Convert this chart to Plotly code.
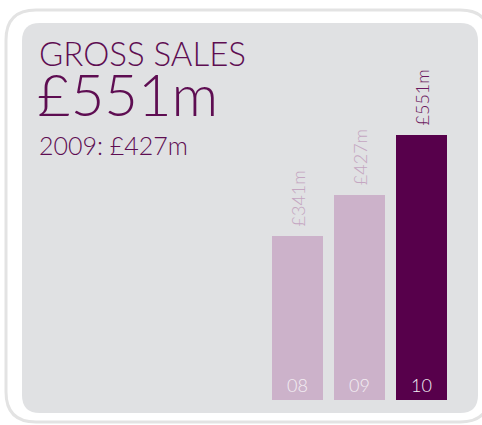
import plotly.graph_objects as go

# Gross sales by financial year (£m)
years = ["08", "09", "10"]
sales = [341, 427, 551]
value_labels = ["£341m", "£427m", "£551m"]
bar_colors = ["#ccb2ca", "#ccb2ca", "#57004b"]
label_colors = ["#c4a6c1", "#c4a6c1", "#6b1a60"]

W, H = 482, 425
FONT = "Lato"
PURPLE = "#5e0d52"

x_pos = list(range(len(years)))

fig = go.Figure()
fig.add_trace(go.Bar(
    x=x_pos, y=sales, width=0.82,
    marker=dict(color=bar_colors, line=dict(width=0)),
    hoverinfo="skip",
))

# value labels above bars, rotated
for xi, v, t, c in zip(x_pos, sales, value_labels, label_colors):
    fig.add_annotation(x=xi, y=v, text=t, textangle=-90, showarrow=False,
                       xanchor="center", yanchor="bottom", yshift=7,
                       font=dict(family=FONT, size=18, color=c, weight=300))

# year labels inside bar bottoms
for xi, yr in zip(x_pos, years):
    fig.add_annotation(x=xi, y=0, text=yr, showarrow=False,
                       xanchor="center", yanchor="bottom", yshift=2,
                       font=dict(family=FONT, size=18, color="#f3eef3", weight=300))

def px(x):
    return x / W

def py(y):
    return 1 - y / H

def rounded_rect(x0, y0, x1, y1, r):
    # rounded rectangle path given in pixels from the top-left, as paper coords
    def P(x, y):
        return f"{px(x):.5f},{py(y):.5f}"
    path = (f"M {P(x0 + r, y0)} L {P(x1 - r, y0)} "
            f"Q {P(x1, y0)} {P(x1, y0 + r)} L {P(x1, y1 - r)} "
            f"Q {P(x1, y1)} {P(x1 - r, y1)} L {P(x0 + r, y1)} "
            f"Q {P(x0, y1)} {P(x0, y1 - r)} L {P(x0, y0 + r)} "
            f"Q {P(x0, y0)} {P(x0 + r, y0)} Z")
    return path

fig.add_shape(type="path", xref="paper", yref="paper", layer="below",
              path=rounded_rect(6, 10, 490, 422, 30),
              line=dict(color="#e3e3e3", width=3), fillcolor="white")
fig.add_shape(type="path", xref="paper", yref="paper", layer="below",
              path=rounded_rect(22, 23, 478, 413, 18),
              line=dict(width=0), fillcolor="#e0e1e3")

# headline text
fig.add_annotation(xref="paper", yref="paper", x=px(37), y=py(31), text="GROSS SALES",
                   showarrow=False, xanchor="left", yanchor="top",
                   font=dict(family=FONT, size=33, color=PURPLE, weight=300))
fig.add_annotation(xref="paper", yref="paper", x=px(35), y=py(57), text="£551m",
                   showarrow=False, xanchor="left", yanchor="top",
                   font=dict(family=FONT, size=58, color=PURPLE, weight=300))
fig.add_annotation(xref="paper", yref="paper", x=px(37), y=py(128), text="2009: £427m",
                   showarrow=False, xanchor="left", yanchor="top",
                   font=dict(family=FONT, size=25, color=PURPLE, weight=300))

# axis scaling: 62px per category, baseline at 400px from top
pitch = 62.0
center0 = 297.5
units_per_px = sales[-1] / 265.0
x_start = -center0 / pitch
base_px = 25.0

fig.update_layout(
    width=W, height=H,
    margin=dict(l=0, r=0, t=0, b=0, pad=0),
    paper_bgcolor="white", plot_bgcolor="rgba(0,0,0,0)",
    showlegend=False, bargap=0,
    xaxis=dict(range=[x_start, x_start + W / pitch], visible=False, fixedrange=True),
    yaxis=dict(range=[-base_px * units_per_px, (H - base_px) * units_per_px],
               visible=False, fixedrange=True),
)

fig.write_html("out.html")
